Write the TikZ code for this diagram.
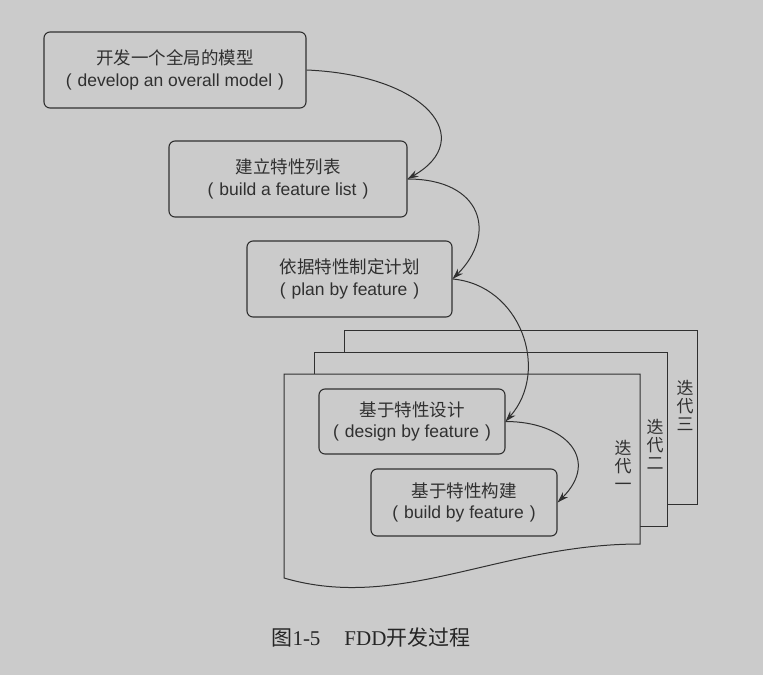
\documentclass[tikz,border=0pt]{standalone}
\usepackage{fontspec}
\setmainfont{Liberation Sans}
\newfontfamily\cjk{Noto Sans CJK SC}
\newfontfamily\capserif{Liberation Serif}
\usetikzlibrary{arrows.meta}
\definecolor{bgray}{RGB}{203,203,203}
\definecolor{ink}{RGB}{48,48,48}
\newcommand{\paren}[1]{(\hspace{6pt}#1\hspace{6pt})}
\begin{document}
\begin{tikzpicture}[x=1pt,y=-1pt,
    stepbox/.style={draw=ink,line width=1.1pt,rounded corners=6pt,align=center,text=ink,
      font=\fontsize{17.5}{22}\selectfont,inner sep=0pt,minimum height=76pt},
    flow/.style={draw=ink,line width=1pt,-{Stealth[length=11pt,width=7pt]}},
    page/.style={draw=ink,line width=1pt,fill=bgray},
    itlabel/.style={font=\cjk\fontsize{17}{18}\selectfont,text=ink,align=center,inner sep=0pt}]
    \useasboundingbox[fill=bgray] (0,0) rectangle (763,675);
    % iteration pages, back to front
    \draw[page] (344,330) rectangle (697,504);
    \draw[page] (314,352) rectangle (667,526);
    \draw[page] (284,374) -- (640,374) -- (640,544) .. controls (500,544) and (400,612) .. (284,578) -- cycle;
    \node[itlabel] (iter3) at (685,405) {迭\\代\\三};
    \node[itlabel] (iter2) at (655,444) {迭\\代\\二};
    \node[itlabel] (iter1) at (623,465) {迭\\代\\一};
    % process steps
    \node[stepbox,minimum width=262pt] (model) at (175,70) {{\cjk 开发一个全局的模型}\\\paren{develop an overall model}};
    \node[stepbox,minimum width=238pt] (list) at (288,179) {{\cjk 建立特性列表}\\\paren{build a feature list}};
    \node[stepbox,minimum width=205pt] (plan) at (349.5,279) {{\cjk 依据特性制定计划}\\\paren{plan by feature}};
    \node[stepbox,minimum width=186pt,minimum height=65pt,font=\fontsize{17.5}{21}\selectfont] (design) at (412,421.5) {{\cjk 基于特性设计}\\\paren{design by feature}};
    \node[stepbox,minimum width=186pt,minimum height=67pt,font=\fontsize{17.5}{21}\selectfont] (build) at (464,502.5) {{\cjk 基于特性构建}\\\paren{build by feature}};
    \draw[flow] (model.east) .. controls +(120,5) and +(70,-40) .. (list.east);
    \draw[flow] (list.east) .. controls +(75,0) and +(45,-45) .. (plan.east);
    \draw[flow] (plan.east) .. controls +(68,6) and +(45,-51) .. (design.east);
    \draw[flow] (design.east) .. controls +(60,0) and +(43,-43) .. (build.east);
    \node[text=black!85,font=\fontsize{21}{24}\selectfont] (caption) at (371,638) {{\cjk 图}{\capserif 1-5}\hspace{24pt}{\capserif FDD}{\cjk 开发过程}};
\end{tikzpicture}
\end{document}
